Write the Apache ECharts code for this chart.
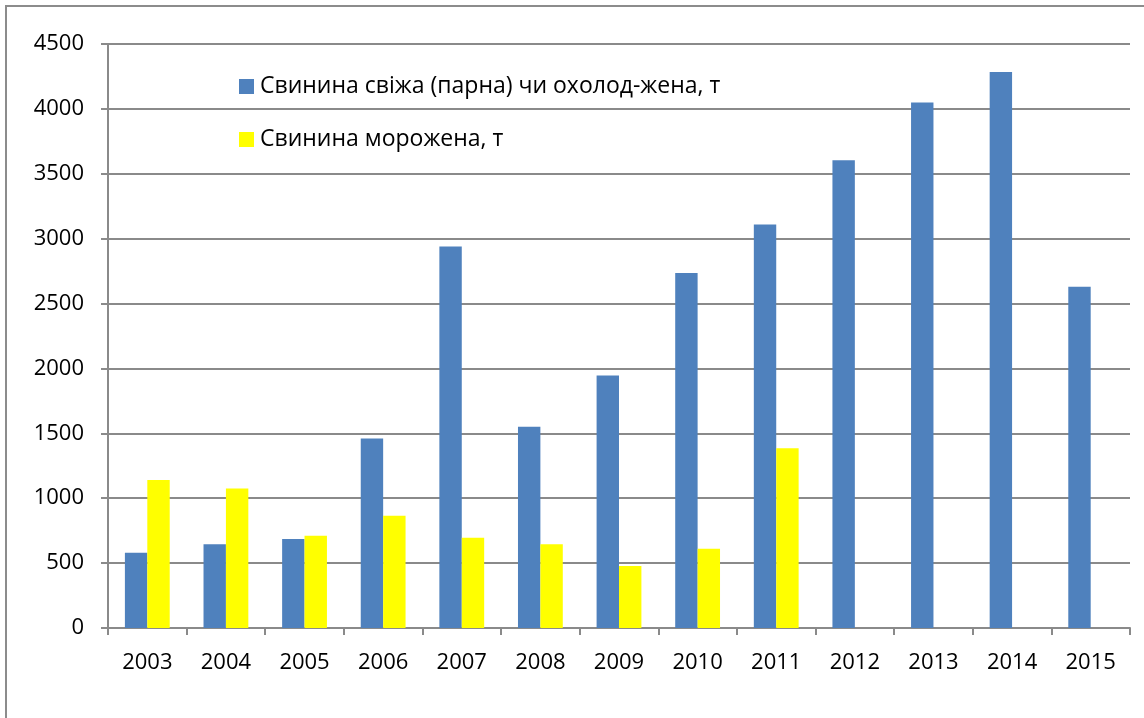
<!DOCTYPE html>
<html>
<head>
<meta charset="utf-8">
<script src="https://cdn.jsdelivr.net/npm/echarts@6/dist/echarts.min.js"></script>
<style>
  html, body { margin: 0; padding: 0; background: #fff; }
  #chart { width: 1144px; height: 718px; }
</style>
</head>
<body>
<div id="chart"></div>
<script>
// роки
const years = ['2003', '2004', '2005', '2006', '2007', '2008', '2009', '2010', '2011', '2012', '2013', '2014', '2015']
// свинина свіжа (парна) чи охолоджена, т
const fresh = [580, 645, 685, 1460, 2940, 1550, 1945, 2735, 3110, 3605, 4050, 4285, 2630]
// свинина морожена, т
const frozen = [1140, 1075, 710, 865, 695, 645, 478, 610, 1385, null, null, null, null]
const freshName = 'Свинина свіжа (парна) чи охолод-жена, т'
const frozenName = 'Свинина морожена, т'

const font = 'Open Sans'
const gridColor = '#8a8a8a'

const myChart = echarts.init(document.getElementById('chart'))
const option = {
  backgroundColor: '#fff',
  animation: false,
  textStyle: { fontFamily: font },
  /* рамка навколо діаграми */
  graphic: [{
    type: 'rect',
    shape: { x: 6, y: 6, width: 1160, height: 730 },
    style: { fill: 'none', stroke: '#8c8c8c', lineWidth: 2 },
    silent: true
  }],
  grid: { left: 108, right: 14, top: 44, bottom: 90 },
  legend: {
    orient: 'vertical',
    left: 234,
    top: 70,
    itemWidth: 15,
    itemHeight: 15,
    itemGap: 30,
    icon: 'rect',
    textStyle: { fontFamily: font, fontSize: 23, color: '#000', padding: [0, 0, 0, 1] },
    data: [freshName, frozenName]
  },
  xAxis: {
    type: 'category',
    data: years,
    axisLine: { lineStyle: { color: gridColor, width: 2 } },
    axisTick: { show: true, length: 7, lineStyle: { color: gridColor, width: 2 } },
    axisLabel: { color: '#000', fontSize: 22, margin: 24, fontFamily: font }
  },
  yAxis: {
    type: 'value',
    min: 0,
    max: 4500,
    interval: 500,
    axisLine: { show: true, lineStyle: { color: gridColor, width: 2 } },
    axisTick: { show: true, length: 7, lineStyle: { color: gridColor, width: 2 } },
    axisLabel: { color: '#000', fontSize: 22, margin: 24, fontFamily: font, formatter: v => String(v) },
    splitLine: { lineStyle: { color: gridColor, width: 2 } }
  },
  series: [
    {
      name: freshName,
      type: 'bar',
      data: fresh,
      barGap: '0%',
      barCategoryGap: '43%',
      itemStyle: { color: '#4f81bd' }
    },
    {
      name: frozenName,
      type: 'bar',
      data: frozen,
      itemStyle: { color: '#ffff00' }
    }
  ]
}
myChart.setOption(option)
</script>
</body>
</html>
